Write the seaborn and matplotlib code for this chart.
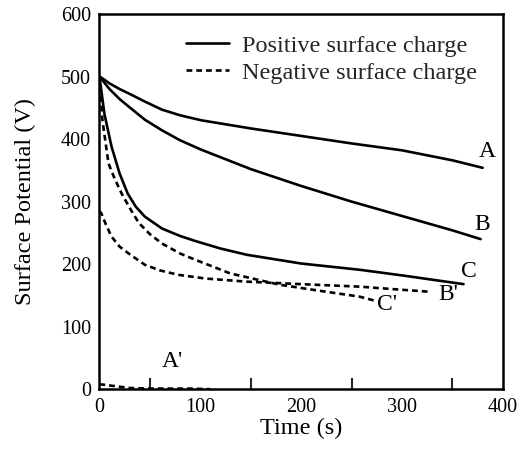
import matplotlib
matplotlib.use("Agg")
import matplotlib.pyplot as plt
from matplotlib.lines import Line2D
import seaborn as sns
import pandas as pd

# Data
time_A = [0, 3, 10, 20, 29, 45, 62, 80, 101, 150, 200, 250, 300, 350, 380]
pot_A = [500, 497, 489, 480, 473, 460, 447, 438, 430, 417, 405, 393, 382, 366, 354]

time_B = [0, 3, 10, 20, 29, 45, 62, 80, 101, 150, 200, 250, 300, 350, 378]
pot_B = [500, 494, 480, 464, 452, 431, 414, 398, 383, 352, 325, 300, 277, 254, 240]

time_C = [0, 5, 12, 20, 28, 36, 45, 62, 80, 95, 120, 146, 200, 258, 300, 361]
pot_C = [500, 440, 388, 345, 313, 292, 276, 257, 245, 237, 225, 215, 201, 191, 182, 168]

time_Ap = [0, 10, 20, 30, 50, 70, 90, 110]
pot_Ap = [8, 6, 4, 2, 1, 1, 1, 0]

time_Bp = [0, 2, 6, 12, 20, 29, 45, 60, 78, 105, 146, 200, 258, 300, 326]
pot_Bp = [285, 281, 265, 244, 228, 217, 199, 190, 183, 177, 172, 168, 164, 159, 156]

time_Cp = [0, 3, 9, 15, 22, 30, 39, 50, 62, 80, 95, 130, 179, 220, 258, 272]
pot_Cp = [500, 430, 361, 337, 313, 290, 266, 248, 233, 217, 207, 185, 167, 157, 148, 142]

curve_labels = ["A", "B", "C", "A'", "B'", "C'"]
label_pos_x = [385, 379, 366, 72, 346, 285]
label_pos_y = [380, 264, 188, 44, 151, 135]

legend_labels = ["Positive surface charge", "Negative surface charge"]
x_ticks = [0, 100, 200, 300, 400]
y_ticks = [0, 100, 200, 300, 400, 500, 600]

sns.set_theme(style="white")
plt.rcParams["font.family"] = ["Liberation Serif", "DejaVu Serif"]

frames = []
for name, t, v, charge in [
    ("A", time_A, pot_A, "pos"), ("B", time_B, pot_B, "pos"), ("C", time_C, pot_C, "pos"),
    ("A'", time_Ap, pot_Ap, "neg"), ("B'", time_Bp, pot_Bp, "neg"), ("C'", time_Cp, pot_Cp, "neg"),
]:
    frames.append(pd.DataFrame({"time": t, "pot": v, "curve": name, "charge": charge}))
df = pd.concat(frames, ignore_index=True)

DASH = (0, (2.2, 1.5))

fig = plt.figure(figsize=(5.26, 4.51), dpi=100)
ax = fig.add_axes([0.189, 0.137, 0.767, 0.832])

for name, sub in df.groupby("curve", sort=False):
    neg = sub["charge"].iloc[0] == "neg"
    sns.lineplot(data=sub, x="time", y="pot", ax=ax, color="black", lw=1.9,
                 linestyle=DASH if neg else "-", legend=False,
                 estimator=None, sort=False)

for lab, lx, ly in zip(curve_labels, label_pos_x, label_pos_y):
    ax.text(lx, ly, lab, fontsize=17, ha="center", va="center", color="black")

handles = [Line2D([], [], color="black", lw=1.9),
           Line2D([], [], color="black", lw=1.9, linestyle=DASH)]
ax.legend(handles, legend_labels, loc="upper right", frameon=False, fontsize=17.5,
          handlelength=1.8, handletextpad=0.5, labelspacing=0.2,
          bbox_to_anchor=(0.935, 0.945), borderaxespad=0.0, borderpad=0.0)

ax.set_xlim(0, 400)
ax.set_ylim(0, 600)
ax.set_xticks(x_ticks)
ax.set_xticks([50, 150, 250, 350], minor=True)
ax.set_yticks(y_ticks)
ax.tick_params(axis="both", which="major", direction="in", length=8, width=1.5,
               labelsize=14.5, colors="black", pad=6)
ax.tick_params(axis="x", which="minor", direction="in", length=8, width=1.5, bottom=True)
ax.set_xlabel("Time (s)", fontsize=17.5, color="black", labelpad=1)
ax.set_ylabel("Surface Potential (V)", fontsize=17.5, color="black", labelpad=18)
for s in ax.spines.values():
    s.set_color("black")
    s.set_linewidth(1.8)

fig.savefig("out.png", dpi=100, facecolor="white")
